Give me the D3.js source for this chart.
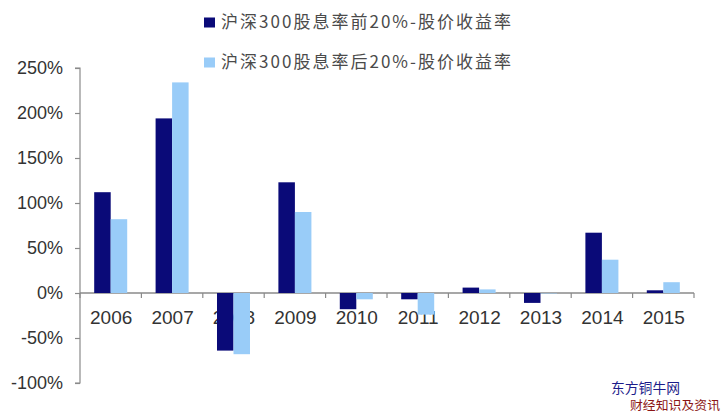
<!DOCTYPE html>
<html><head><meta charset="utf-8">
<script src="https://cdn.jsdelivr.net/npm/d3@7"></script>
<style>body{margin:0;background:#fff}svg{display:block}</style>
</head><body>
<script>
const years = ["2006","2007","2008","2009","2010","2011","2012","2013","2014","2015"];
const seriesNames = ["沪深300股息率前20%-股价收益率","沪深300股息率后20%-股价收益率"];
const topReturns = [112, 194, -64, 123, -18, -7, 6, -11, 67, 3];
const bottomReturns = [82, 234, -68, 90, -7, -24, 4, -0.5, 37, 12];
const yTicks = [-100, -50, 0, 50, 100, 150, 200, 250];
const colors = ["#0a0a78", "#99ccf8"];

const W = 726, H = 419;
const svg = d3.select("body").append("svg").attr("width", W).attr("height", H);
const font = "'Liberation Sans', Arial, sans-serif";
const cjk = "'Noto Sans CJK SC', sans-serif";

const y = d3.scaleLinear().domain([-100, 250]).range([383, 68]);
const x0 = d3.scaleBand().domain(years).range([80, 694]).padding(0);
const x1 = d3.scaleBand().domain([0, 1]).range([0, x0.bandwidth()]).paddingInner(0).paddingOuter(0.86);

// Y axis
const yAxis = d3.axisLeft(y).tickValues(yTicks).tickSize(5).tickPadding(12).tickFormat(d => d + "%");
const gy = svg.append("g").attr("transform", "translate(80,0)").call(yAxis);
gy.selectAll("path,line").attr("stroke", "#8a8a8a").attr("stroke-width", 1.2);
gy.selectAll("text").attr("font-family", font).attr("font-size", 18).attr("fill", "#333");
gy.select(".domain").attr("d", `M-5,${y(250)}H0V${y(-100)}H-5`);

// X axis line at 0 with ticks at category boundaries
const gx = svg.append("g");
gx.append("line").attr("x1", 80).attr("x2", 694).attr("y1", y(0)).attr("y2", y(0))
  .attr("stroke", "#8a8a8a").attr("stroke-width", 1.5);
const bounds = years.map(d => x0(d)).concat([x0(years[years.length-1]) + x0.bandwidth()]);
gx.selectAll("line.tk").data(bounds).join("line").attr("class","tk")
  .attr("x1", d => d).attr("x2", d => d).attr("y1", y(0)).attr("y2", y(0) + 5)
  .attr("stroke", "#8a8a8a").attr("stroke-width", 1.2);
gx.selectAll("text").data(years).join("text")
  .attr("x", d => x0(d) + x0.bandwidth()/2 + 0.5).attr("y", 317)
  .attr("dy", "0.35em").attr("text-anchor", "middle")
  .attr("font-family", font).attr("font-size", 19).attr("fill", "#333").text(d => d);

// Bars
const data = years.map((yr, i) => ({yr, vals: [topReturns[i], bottomReturns[i]]}));
const groups = svg.append("g").selectAll("g").data(data).join("g")
  .attr("transform", d => `translate(${x0(d.yr)},0)`);
groups.selectAll("rect").data(d => d.vals.map((v, k) => ({v, k}))).join("rect")
  .attr("x", d => x1(d.k)).attr("width", x1.bandwidth())
  .attr("y", d => y(Math.max(0, d.v))).attr("height", d => Math.abs(y(d.v) - y(0)))
  .attr("fill", d => colors[d.k]);

// Legend
const leg = svg.append("g");
seriesNames.forEach((name, i) => {
  const cy = 22.5 + i * 40;
  leg.append("rect").attr("x", 204).attr("y", cy - 5).attr("width", 11).attr("height", 10).attr("fill", colors[i]);
  leg.append("text").attr("x", 221).attr("y", cy).attr("dy", "0.35em")
    .attr("font-family", cjk).attr("font-size", 17).attr("fill", "#4a4a4a")
    .attr("textLength", 290).attr("lengthAdjust", "spacing").text(name);
});

// Watermark
svg.append("text").attr("x", 611).attr("y", 388.5).attr("dy", "0.35em")
  .attr("font-family", cjk).attr("font-size", 14).attr("fill", "#1c1c8a")
  .attr("textLength", 69).attr("lengthAdjust", "spacingAndGlyphs").text("东方铜牛网");
svg.append("text").attr("x", 630).attr("y", 406).attr("dy", "0.35em")
  .attr("font-family", cjk).attr("font-size", 12.5).attr("fill", "#8b1515")
  .attr("textLength", 90).attr("lengthAdjust", "spacingAndGlyphs").text("财经知识及资讯");
</script>
</body></html>
